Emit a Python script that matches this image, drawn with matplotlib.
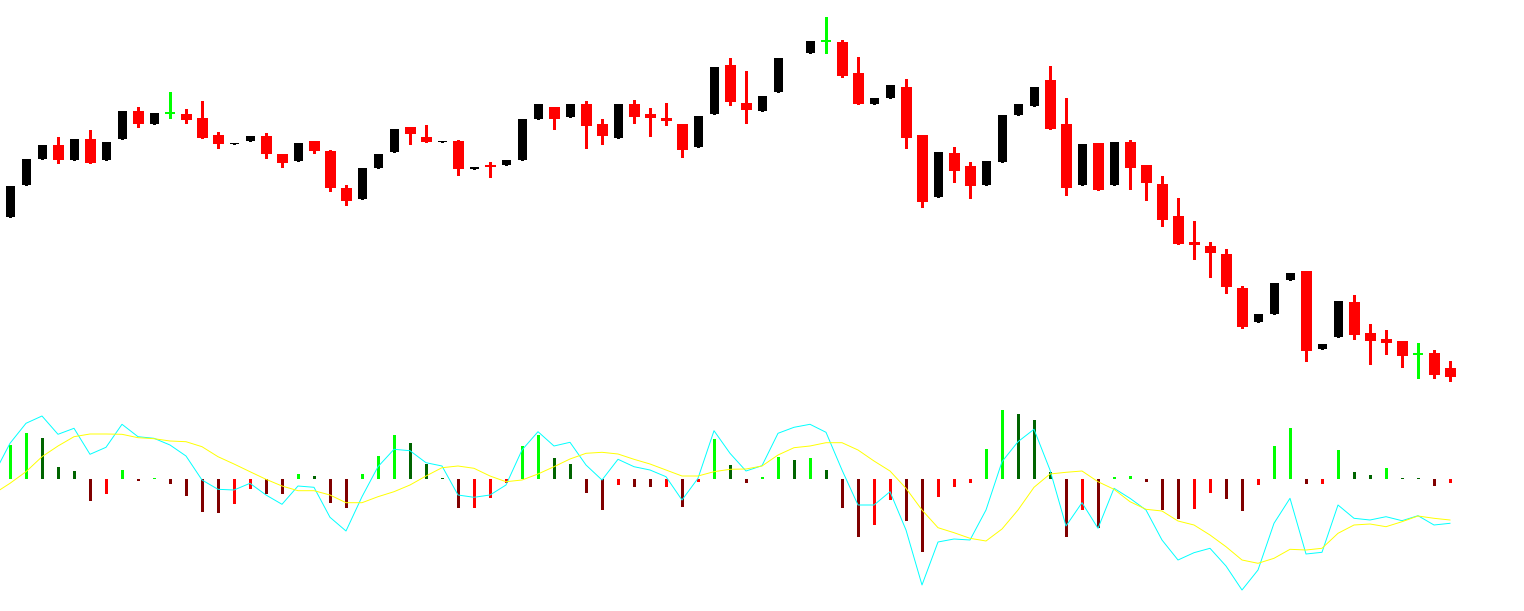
import numpy as np
import matplotlib.pyplot as plt

# candles (price units), index 0..90, bar 49 has no candle drawn
opens = [183.3, 215, 241, 255, 240, 261, 240, 261, 289, 276.3,
         286.7, 286, 282, 265, 256.5, 259, 264, 246, 239.3, 259,
         249, 212, 201.3, 232, 248.3, 273, 263, 258.2, 259, 231.3,
         235, 235.3, 240.3, 281.3, 293, 283.3, 296, 276, 262.3, 296,
         286, 282, 276, 253.3, 286.3, 335, 297, 289.3, 308.3, np.nan,
         347.3, 358.7, 358, 327, 296.3, 302.3, 313, 265, 203.3, 247,
         234, 215.3, 238.3, 285.3, 294.3, 320, 276, 215.3, 257, 215.3,
         258, 235, 216, 184, 158.3, 154, 146, 112, 78.3, 86.3,
         120.3, 129, 51.3, 63.3, 98, 67, 61, 59, 45.7, 47,
         32]
highs = [214, 241, 255, 263.3, 261, 270, 258, 289, 293, 287,
         308, 291, 299, 268, 257.5, 264, 267, 246, 257, 259,
         250, 215, 232, 246, 271, 273, 275, 259.2, 260, 233,
         238, 240, 281, 296, 293, 296, 299, 281, 296, 300,
         292, 297, 276, 284, 333, 342, 329, 304, 342, np.nan,
         359, 383, 360, 343, 302, 315, 321, 265, 248, 253,
         238, 239, 285, 296, 313, 334, 302, 256, 257, 258,
         260, 235, 224, 202, 179, 158, 151, 114, 86, 117,
         127, 129, 56, 99, 105, 76, 70, 59, 57, 50,
         39]
lows = [183.3, 215, 241, 237.3, 240, 237.3, 240, 261, 273.3, 276.3,
        282.3, 277.3, 262.3, 252.3, 256.5, 259, 242.3, 233.3, 239.3, 247.3,
        209.3, 195.3, 201.3, 232, 248.3, 256.3, 258.3, 258.2, 225.3, 231.3,
        223.3, 235.3, 240.3, 281.3, 271.3, 283.3, 252.3, 256.3, 262.3, 277.3,
        264.3, 275.3, 243.3, 253.3, 286.3, 295.3, 277.3, 289.3, 308.3, np.nan,
        347.3, 347, 323.3, 296.3, 296.3, 302.3, 252.3, 193.3, 203.3, 218.3,
        202.3, 215.3, 238.3, 285.3, 294.3, 271.3, 205.3, 215.3, 210.3, 215.3,
        211.3, 200.3, 174.3, 156.3, 141.3, 123.3, 107.3, 72.3, 78.3, 86.3,
        120.3, 39.3, 51.3, 63.3, 61.3, 36.3, 46.3, 33.3, 22.3, 22.3,
        19.3]
closes = [214, 241, 255, 240, 261, 237.3, 258, 289, 276.3, 287,
          286.7, 280.3, 262.3, 256.3, 257.5, 264, 246.3, 237.3, 257, 249.3,
          212.3, 199.3, 232, 246, 271, 266.3, 258.3, 259.2, 231.3, 233,
          233.3, 240, 281, 296, 281.3, 296, 274.3, 264.3, 296, 283.3,
          282.3, 279.3, 250.3, 284, 333, 298.3, 290.3, 304, 342, np.nan,
          359, 358.7, 324.3, 296.3, 302, 315, 262.3, 198.3, 248, 229.3,
          214.3, 239, 285, 296, 313, 271.3, 212.3, 256, 210.3, 258,
          232.3, 217.3, 180.3, 156.3, 155.3, 147.3, 113.3, 73.3, 86, 117,
          127, 49.3, 56, 99, 65.3, 59.3, 57.3, 44.3, 45.7, 25.3,
          23.3]

# oscillator histogram, index 0..90
hist = [34, 46, 41, 12, 8, -21.7, -14.7, 9, -1.7, 1.2,
        -4.7, -16.7, -32.7, -33.7, -24.7, -9.7, -14.7, -14.9, 5, 2.7,
        -23.7, -28.7, 5, 23, 44, 36, 15, 1.3, -28.8, -28.6,
        -18.7, -3.7, 33, 44, 21, 15, -13.7, -30.7, -5.7, -7.6,
        -7.8, -7.6, -27.7, -2.7, 40, 14, -3.7, 2, 22, 19,
        21, 9, -28.7, -57.7, -45.7, -20.7, -41.7, -73, -17.7, -7.7,
        -3.7, 30, 69, 65, 59, 7, -57.7, -30.7, -48.7, 2,
        3, -2.7, -30.7, -39.7, -29.7, -13.7, -19.7, -31.7, -5.7, 33,
        51, -4.7, -4.5, 29, 7, 4, 11, 1.3, 1.2, -6.7,
        -3.7]

# fast (cyan) and signal (yellow) lines, index -1..90
fast = [5, 35.7, 55.7, 63, 44.7, 50.7, 24.7, 31.7, 54.7, 42.3, 40.7,
        34, 23, -1, -10.3, -11, -4.3, -16, -25.3, -7, -8.3,
        -38.3, -52, -17.7, 12.3, 29.7, 28.3, 16.3, 13, -16, -18.3,
        -16, -6, 29, 47.3, 33, 36.7, 14, -1, 19.7, 12.3,
        9, 2.3, -21, 0.7, 48.3, 25.7, 8, 13.3, 45.7, 51.7,
        54.7, 46.7, 9, -26, -26, -12.7, -51, -106, -63, -60,
        -61, -31, 17.3, 37.3, 49.7, 9, -47, -23.7, -49.3, -9.3,
        -19.3, -31, -61, -81, -73.7, -69.3, -87, -111, -91, -44.3,
        -19.3, -75, -73.3, -26, -39.3, -41, -37.7, -41.7, -36.7, -46,
        -44.3]
signal = [-14.6, -4.3, 7.3, 22.3, 33, 42.3, 45, 45, 44.7, 41.3, 40.3,
          38, 37.3, 32.3, 22.3, 15, 7.3, -0.3, -7, -11.7, -11.7,
          -16, -23.7, -23.7, -17.7, -12.7, -6, 3, 11.3, 13, 10.7,
          3, -2.7, -1, 5, 12.3, 20, 25.7, 26.7, 25, 19.7,
          15, 9, 3, 3, 7.3, 9.7, 10, 13, 24, 31.3,
          33, 36.3, 36.3, 29, 18, 8, -9.3, -31, -48.7, -53.7,
          -59.3, -62, -50, -31, -8.3, 5, 6.7, 8, -2.7, -10.3,
          -22.7, -30.3, -32, -42, -46, -56, -67.7, -81, -84.3, -79.3,
          -70.3, -71, -69.3, -54.3, -46, -45, -47.7, -42.7, -37, -39.3,
          -41]

o = np.array(opens)
h = np.array(highs)
l = np.array(lows)
c = np.array(closes)
x = np.arange(len(o))

fig = plt.figure(figsize=(15.24, 6.11), dpi=100, facecolor='white')
ax1 = fig.add_axes([0, 211 / 611, 1, 400 / 611])
ax2 = fig.add_axes([0, 0, 1, 211 / 611])

for i in range(len(o)):
    if np.isnan(o[i]):
        continue
    if c[i] > o[i]:
        # up candle, black body
        ax1.bar(x[i], max(c[i] - o[i], 1), bottom=o[i], width=0.5625,
                color='black', linewidth=0, antialiased=False)
        ax1.vlines(x[i], l[i], h[i], color='black', lw=0.9, antialiased=False)
    elif c[i] < o[i]:
        ax1.vlines(x[i], l[i], h[i], color='#ff0000', lw=0.9, antialiased=False)
        ax1.bar(x[i], max(o[i] - c[i], 1.5), bottom=c[i], width=0.6875,
                color='#ff0000', linewidth=0, antialiased=False)
    else:
        ax1.vlines(x[i], l[i], h[i], color='#00ff00', lw=0.9, antialiased=False)
        ax1.hlines(o[i], x[i] - 0.34, x[i] + 0.34, color='#00ff00', lw=1.2,
                   antialiased=False)

ax1.set_xlim(-0.625, 94.625)
ax1.set_ylim(0, 400)
ax1.axis('off')

# histogram colours: rising/falling above and below zero
hv = np.array(hist)
cols = []
for i in range(len(hv)):
    up = i == 0 or hv[i] > hv[i - 1]
    if hv[i] >= 0:
        cols.append('#00ff00' if up else '#006400')
    else:
        cols.append('#ff0000' if up else '#800000')
ax2.bar(np.arange(len(hv)), hv, width=0.1875, color=cols, linewidth=0,
        antialiased=False)

xl = np.arange(-1, len(fast) - 1)
ax2.plot(xl, fast, color='#00ffff', lw=0.7)
ax2.plot(xl, signal, color='#ffff00', lw=0.7)

ax2.set_xlim(-0.625, 94.625)
ax2.set_ylim(-132, 79)
ax2.axis('off')

fig.savefig('out.png', dpi=100, facecolor='white')
